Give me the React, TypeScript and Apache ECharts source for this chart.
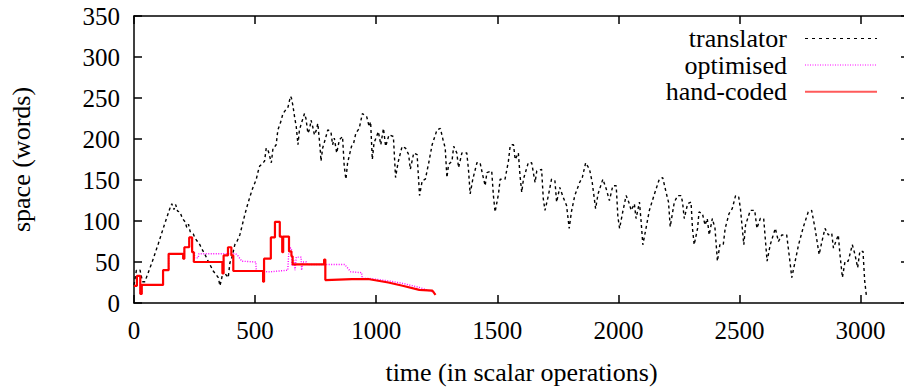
import React, { useEffect, useRef } from "react";
import * as echarts from "echarts";

const FONT = "Liberation Serif, Times New Roman, serif";

const xTicks = { min: 0, max: 3200, interval: 500 };
const yTicks = { min: 0, max: 350, interval: 50 };

const xTitle = "time (in scalar operations)";
const yTitle = "space (words)";
const seriesNames = ["translator", "optimised", "hand-coded"];

const translator: [number, number][] = [
  [0, 22], [10, 40], [25, 40], [35, 26], [45, 26], [75, 50], [100, 72], [125, 95], [150, 117],
  [156, 121], [165, 114], [172, 120], [180, 112], [190, 111], [200, 103], [211, 99], [218, 92],
  [225, 96], [232, 87], [245, 84], [252, 79], [262, 75], [272, 71], [280, 66], [286, 63], [295, 58],
  [306, 51], [315, 46], [327, 39], [338, 35], [348, 31], [355, 21], [362, 30], [368, 39], [378, 35],
  [389, 31], [396, 49], [405, 56], [416, 71], [425, 75], [437, 83], [447, 95], [457, 107], [467, 118],
  [478, 129], [490, 140], [505, 151], [512, 160], [519, 167], [530, 170], [539, 173], [546, 189],
  [555, 185], [567, 171], [574, 189], [580, 190], [587, 193], [594, 211], [605, 220], [615, 231],
  [625, 235], [636, 239], [646, 252], [650, 250], [656, 241], [663, 227], [670, 215], [677, 193],
  [683, 211], [692, 220], [704, 231], [710, 225], [718, 207], [725, 212], [731, 223], [738, 215],
  [745, 205], [752, 210], [759, 219], [765, 200], [770, 183], [772, 173], [779, 189], [790, 200],
  [800, 211], [813, 209], [820, 193], [827, 201], [837, 183], [848, 199], [861, 203], [868, 167],
  [875, 151], [882, 171], [898, 191], [907, 195], [916, 207], [930, 213], [943, 231], [952, 229],
  [961, 227], [971, 215], [977, 221], [984, 175], [991, 195], [1009, 209], [1019, 193], [1030, 213],
  [1039, 191], [1053, 205], [1071, 203], [1080, 153], [1090, 171], [1107, 191], [1121, 189],
  [1134, 181], [1141, 163], [1155, 183], [1169, 181], [1179, 131], [1190, 149], [1203, 151],
  [1217, 171], [1231, 193], [1251, 211], [1265, 213], [1276, 199], [1285, 189], [1292, 153],
  [1299, 169], [1313, 173], [1320, 191], [1333, 183], [1340, 165], [1354, 183], [1374, 183],
  [1381, 163], [1388, 133], [1399, 151], [1416, 171], [1429, 171], [1439, 157], [1450, 143],
  [1457, 159], [1477, 161], [1484, 131], [1491, 111], [1505, 133], [1512, 151], [1532, 151],
  [1546, 173], [1553, 191], [1560, 193], [1567, 193], [1574, 175], [1587, 183], [1594, 155],
  [1601, 135], [1608, 151], [1628, 171], [1642, 171], [1656, 147], [1663, 161], [1683, 163],
  [1690, 127], [1697, 113], [1711, 131], [1724, 151], [1738, 149], [1745, 123], [1758, 141],
  [1772, 129], [1786, 119], [1797, 91], [1806, 111], [1820, 131], [1840, 147], [1851, 153],
  [1865, 171], [1881, 163], [1892, 147], [1906, 115], [1916, 133], [1936, 151], [1950, 139],
  [1963, 125], [1977, 143], [1991, 143], [1998, 105], [2005, 91], [2018, 111], [2032, 131],
  [2043, 123], [2053, 113], [2066, 121], [2073, 103], [2087, 123], [2094, 99], [2101, 71],
  [2114, 91], [2128, 113], [2149, 133], [2169, 151], [2183, 153], [2197, 135], [2207, 123],
  [2214, 93], [2231, 123], [2245, 131], [2259, 131], [2265, 123], [2272, 103], [2286, 121],
  [2300, 123], [2306, 91], [2313, 71], [2327, 91], [2333, 111], [2347, 109], [2358, 95],
  [2367, 103], [2375, 83], [2388, 103], [2399, 91], [2409, 51], [2419, 71], [2433, 71],
  [2441, 91], [2457, 109], [2470, 115], [2484, 131], [2497, 129], [2504, 115], [2518, 71],
  [2525, 95], [2545, 113], [2563, 113], [2572, 91], [2586, 103], [2600, 103], [2614, 51],
  [2627, 71], [2648, 91], [2661, 75], [2675, 83], [2695, 83], [2709, 49], [2716, 31], [2730, 51],
  [2744, 71], [2764, 93], [2784, 111], [2798, 113], [2812, 91], [2829, 59], [2839, 73], [2853, 91],
  [2867, 83], [2881, 85], [2888, 67], [2908, 83], [2915, 59], [2925, 31], [2936, 51], [2949, 51],
  [2966, 71], [2977, 59], [2988, 43], [2997, 63], [3010, 63], [3017, 27], [3024, 9],
];

const optimised: [number, number][] = [
  [0, 21], [12, 21], [12, 33], [26, 33], [26, 11], [32, 11], [32, 22], [120, 22], [120, 40],
  [143, 40], [143, 60], [203, 60], [203, 54], [208, 54], [208, 68], [228, 68], [228, 80], [240, 80],
  [240, 62], [250, 62], [250, 55], [265, 55], [268, 60], [420, 60], [428, 58], [445, 51], [503, 50],
  [505, 39], [560, 38], [635, 40], [640, 67], [650, 67], [652, 45], [660, 52], [665, 40], [670, 56],
  [690, 56], [692, 40], [697, 50], [712, 50], [715, 47], [870, 47], [895, 38], [940, 37], [942, 30],
  [972, 30], [1050, 27], [1109, 24], [1178, 19], [1240, 13],
];

const handCoded: [number, number][] = [
  [0, 21], [12, 21], [12, 33], [26, 33], [26, 11], [32, 11], [32, 22], [120, 22], [120, 40],
  [143, 40], [143, 60], [203, 60], [203, 54], [208, 54], [208, 68], [228, 68], [228, 80], [240, 80],
  [240, 62], [247, 62], [247, 50], [365, 50], [365, 36], [370, 36], [370, 58], [388, 58], [388, 68],
  [402, 68], [402, 58], [410, 58], [410, 39], [533, 39], [533, 26], [537, 26], [537, 54], [565, 54],
  [565, 80], [582, 80], [582, 99], [602, 99], [602, 81], [612, 81], [612, 62], [616, 62], [616, 81],
  [640, 81], [640, 63], [650, 63], [650, 57], [655, 57], [655, 47], [785, 47], [785, 53], [790, 53],
  [790, 28], [900, 29], [972, 29], [1050, 25], [1109, 21], [1178, 16], [1232, 15], [1245, 10],
];

const lineColors = ["#000000", "#ff00ff", "#ff0000"];

export default function App() {
  const ref = useRef<HTMLDivElement>(null);
  useEffect(() => {
    if (!ref.current) return;
    const chart = echarts.init(ref.current, undefined, { renderer: "svg" });
    const axisLine = { show: true, onZero: false, lineStyle: { color: "#000", width: 1.5 } };
    const axisTick = { show: true, inside: true, length: 8, lineStyle: { color: "#000", width: 1.5 } };
    const tickStyle = { color: "#000", fontFamily: FONT, fontSize: 25 };
    const nameStyle = { color: "#000", fontFamily: FONT, fontSize: 26 };
    const fmt = (v: number) => String(v);
    const legendY = [38.5, 65, 91.7];
    const legendGraphics: any[] = [];
    const styles: any[] = [
      { stroke: lineColors[0], lineWidth: 1.2, lineDash: [3, 4] },
      { stroke: lineColors[1], lineWidth: 1.2, lineDash: [1, 1.5] },
      { stroke: "#ff5a5a", lineWidth: 2 },
    ];
    seriesNames.forEach((n, i) => {
      legendGraphics.push({
        type: "text",
        x: 787,
        y: legendY[i],
        style: {
          text: n,
          fill: "#000",
          fontFamily: FONT,
          fontSize: 26,
          align: "right",
          verticalAlign: "middle",
        },
      });
      legendGraphics.push({
        type: "line",
        shape: { x1: 805, y1: legendY[i], x2: 877, y2: legendY[i] },
        style: styles[i],
      });
    });
    chart.setOption({
      animation: false,
      grid: { left: 130, top: 16, right: 3, bottom: 82.5, containLabel: false },
      xAxis: [
        {
          type: "value",
          position: "bottom",
          ...xTicks,
          axisLine,
          axisTick,
          splitLine: { show: false },
          axisLabel: { ...tickStyle, margin: 15, showMaxLabel: false, formatter: fmt },
          name: xTitle,
          nameLocation: "middle",
          nameGap: 56,
          nameTextStyle: nameStyle,
        },
        {
          type: "value",
          position: "top",
          ...xTicks,
          axisLine,
          axisTick,
          splitLine: { show: false },
          axisLabel: { show: false },
        },
      ],
      yAxis: [
        {
          type: "value",
          position: "left",
          ...yTicks,
          axisLine,
          axisTick,
          splitLine: { show: false },
          axisLabel: { ...tickStyle, margin: 14, formatter: fmt },
          name: yTitle,
          nameLocation: "middle",
          nameGap: 100,
          nameRotate: 90,
          nameTextStyle: nameStyle,
        },
        {
          type: "value",
          position: "right",
          ...yTicks,
          axisLine,
          axisTick,
          splitLine: { show: false },
          axisLabel: { show: false },
        },
      ],
      series: [
        {
          name: seriesNames[0],
          type: "line",
          data: translator,
          showSymbol: false,
          symbol: "none",
          lineStyle: { color: lineColors[0], width: 1.4, type: [3, 3] },
          z: 2,
        },
        {
          name: seriesNames[1],
          type: "line",
          data: optimised,
          showSymbol: false,
          symbol: "none",
          lineStyle: { color: lineColors[1], width: 1.4, type: [1, 1.5] },
          z: 3,
        },
        {
          name: seriesNames[2],
          type: "line",
          data: handCoded,
          showSymbol: false,
          symbol: "none",
          lineStyle: { color: lineColors[2], width: 2.2 },
          z: 4,
        },
      ],
      graphic: legendGraphics,
    });
    return () => chart.dispose();
  }, []);
  return (
    <div style={{ position: "absolute", left: 0, top: 0, width: 904, height: 390, overflow: "hidden", background: "#fff" }}>
      <div ref={ref} style={{ width: 912, height: 390 }} />
    </div>
  );
}
